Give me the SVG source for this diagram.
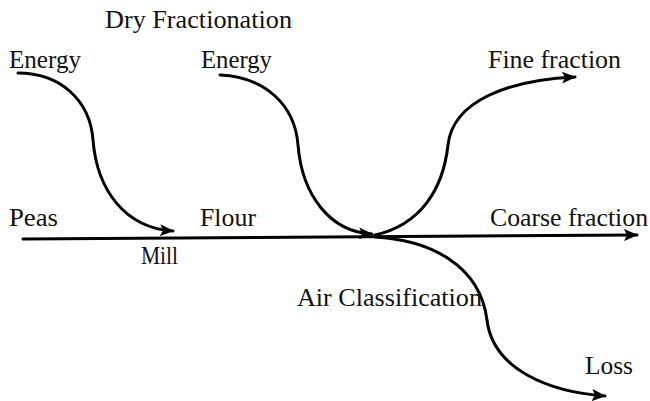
<svg xmlns="http://www.w3.org/2000/svg" width="650" height="401" viewBox="0 0 650 401">
<defs>
<marker id="ah" markerUnits="userSpaceOnUse" markerWidth="14" markerHeight="12" refX="13" refY="6" orient="auto" viewBox="0 0 14 12">
<path d="M0,0 L14,6 L0,12 L3,6 z" fill="#000"/>
</marker>
<style>
.t{font-family:'Liberation Serif','Times New Roman','DejaVu Serif',serif;font-size:25px;fill:#111}
.c{fill:none;stroke:#000;stroke-width:3;stroke-linecap:round}
</style>
</defs>
<rect width="650" height="401" fill="#fff"/>
<g id="connectors">
<path class="c" d="M23,239 L637,235" marker-end="url(#ah)"/>
<path class="c" d="M18,73 C60,73 90,100 93,140 C97,190 125,228 173,231" marker-end="url(#ah)"/>
<path class="c" d="M220,75 C265,77 295,105 298,145 C302,195 330,232 372,234" marker-end="url(#ah)"/>
<path class="c" d="M375,235 C420,225 443,190 448,145 C453,100 510,80 575,77" marker-end="url(#ah)"/>
<path class="c" d="M375,237 C430,240 480,265 487,320 C493,370 550,392 605,396" marker-end="url(#ah)"/>
</g>
<g id="title"><text class="t" x="105" y="28" textLength="187" lengthAdjust="spacingAndGlyphs">Dry Fractionation</text></g>
<g id="energy1"><text class="t" x="9" y="68" textLength="72" lengthAdjust="spacingAndGlyphs">Energy</text></g>
<g id="energy2"><text class="t" x="201" y="68" textLength="71" lengthAdjust="spacingAndGlyphs">Energy</text></g>
<g id="fine"><text class="t" x="488" y="68" textLength="133" lengthAdjust="spacingAndGlyphs">Fine fraction</text></g>
<g id="peas"><text class="t" x="9" y="226" textLength="49" lengthAdjust="spacingAndGlyphs">Peas</text></g>
<g id="flour"><text class="t" x="200" y="226" textLength="56" lengthAdjust="spacingAndGlyphs">Flour</text></g>
<g id="mill"><text class="t" x="141" y="264" textLength="37" lengthAdjust="spacingAndGlyphs">Mill</text></g>
<g id="coarse"><text class="t" x="490" y="226" textLength="158" lengthAdjust="spacingAndGlyphs">Coarse fraction</text></g>
<g id="air"><text class="t" x="297" y="306" textLength="185" lengthAdjust="spacingAndGlyphs">Air Classification</text></g>
<g id="loss"><text class="t" x="585" y="374" textLength="48" lengthAdjust="spacingAndGlyphs">Loss</text></g>
</svg>
